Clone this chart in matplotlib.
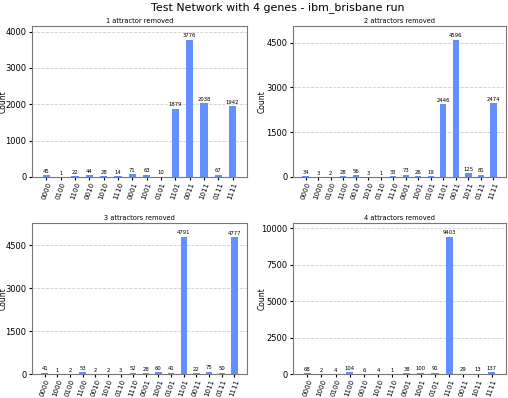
import matplotlib
matplotlib.use("Agg")
import matplotlib.pyplot as plt
import numpy as np

labels_1 = ['0000', '0100', '1100', '0010', '1010', '1110', '0001', '1001', '0101',
            '1101', '0011', '1011', '0111', '1111']
counts_1 = [45, 1, 22, 44, 28, 14, 71, 63, 10, 1879, 3776, 2038, 67, 1942]

labels_2 = ['0000', '1000', '0100', '1100', '0010', '1010', '0110', '1110', '0001',
            '1001', '0101', '1101', '0011', '1011', '0111', '1111']
counts_2 = [34, 3, 2, 28, 56, 3, 1, 33, 73, 26, 19, 2446, 4596, 125, 81, 2474]

labels_3 = ['0000', '1000', '0100', '1100', '0010', '1010', '0110', '1110', '0001',
            '1001', '0101', '1101', '0011', '1011', '0111', '1111']
counts_3 = [41, 1, 2, 53, 2, 2, 3, 52, 28, 60, 41, 4791, 22, 75, 50, 4777]

labels_4 = ['0000', '1000', '0100', '1100', '0010', '1010', '1110', '0001', '1001',
            '0101', '1101', '0011', '1011', '1111']
counts_4 = [68, 2, 4, 104, 6, 4, 1, 38, 100, 91, 9403, 29, 13, 137]

titles = ['1 attractor removed', '2 attractors removed',
          '3 attractors removed', '4 attractors removed']
yticks = [[0, 1000, 2000, 3000, 4000], [0, 1500, 3000, 4500],
          [0, 1500, 3000, 4500], [0, 2500, 5000, 7500, 10000]]

panels = [(labels_1, counts_1), (labels_2, counts_2),
          (labels_3, counts_3), (labels_4, counts_4)]

fig = plt.figure(figsize=(5.08, 3.98), dpi=100)
# axes boxes in pixels: left, top, right, bottom
boxes = [(32, 26, 247, 177), (293, 26, 506, 177),
         (32, 223, 247, 374), (293, 223, 506, 374)]
label_off = [24.5, 26.5, 24.5, 26.5]  # px from axes edge to the "Count" label
W, H = 508, 398

for i, (labels, counts) in enumerate(panels):
    l, t, r, b = boxes[i]
    ax = fig.add_axes([l / W, 1 - b / H, (r - l) / W, (b - t) / H])
    x = np.arange(len(labels))
    bars = ax.bar(x, counts, 0.5, color='#648fff', zorder=2)
    ax.bar_label(bars, fontsize=3.8, padding=1)
    ax.set_xlim(-1, len(labels))
    ax.set_ylim(0, 1.1 * max(counts))
    ax.set_yticks(yticks[i])
    ax.set_xticks(x, labels, rotation=70, fontsize=5)
    ax.tick_params(axis='y', labelsize=6, length=2.5, pad=1.5)
    ax.tick_params(axis='x', length=2.5, pad=1)
    ax.grid(axis='y', color='#d0d0d0', linestyle='--', linewidth=0.6, zorder=0)
    for s in ax.spines.values():
        s.set_color('#777777')
        s.set_linewidth(0.8)
    ax.set_ylabel('Count', fontsize=5.5)
    ax.yaxis.set_label_coords(-label_off[i] / (r - l), 0.5)
    ax.set_title(titles[i], fontsize=4.8, pad=2.5)

fig.suptitle('Test Network with 4 genes - ibm_brisbane run', fontsize=7.9,
             x=0.547, y=0.995)
fig.savefig('out.png', dpi=100)
